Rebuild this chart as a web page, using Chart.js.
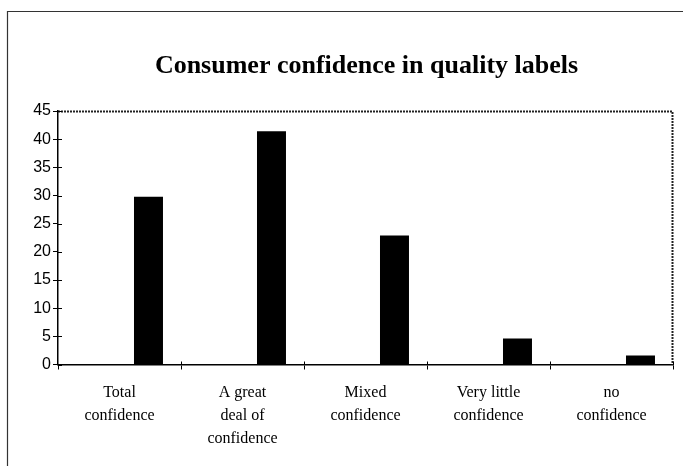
<!DOCTYPE html>
<html>
<head>
<meta charset="utf-8">
<script src="https://cdn.jsdelivr.net/npm/chart.js@4"></script>
<style>
html,body{margin:0;padding:0;background:#fff;}
#wrap{position:relative;width:683px;height:466px;}
</style>
</head>
<body>
<div id="wrap"><canvas id="c" width="683" height="466"></canvas></div>
<script>
const chartTitle = "Consumer confidence in quality labels";
const categories = [
  ["Total", "confidence"],
  ["A great", "deal of", "confidence"],
  ["Mixed", "confidence"],
  ["Very little", "confidence"],
  ["no", "confidence"]
];
const confidenceValues = [29.8, 41.4, 22.9, 4.6, 1.6];
const emptySeriesA = [];
const emptySeriesB = [];
const yTicks = [0, 5, 10, 15, 20, 25, 30, 35, 40, 45];

const framePlugin = {
  id: 'frame',
  afterDraw(chart) {
    const ctx = chart.ctx;
    const a = chart.chartArea;
    ctx.save();
    // outer chart frame (left + top)
    ctx.strokeStyle = '#333';
    ctx.lineWidth = 1.2;
    ctx.beginPath();
    ctx.moveTo(7.5, 466);
    ctx.lineTo(7.5, 11.5);
    ctx.lineTo(683, 11.5);
    ctx.stroke();
    // plot-area border (top + right), dotted
    ctx.strokeStyle = '#222';
    ctx.lineWidth = 2;
    ctx.setLineDash([2, 1]);
    ctx.beginPath();
    ctx.moveTo(a.left, a.top + 0.5);
    ctx.lineTo(a.right - 0.5, a.top + 0.5);
    ctx.lineTo(a.right - 0.5, a.bottom);
    ctx.stroke();
    ctx.setLineDash([]);
    // inner half of y ticks (cross marks)
    const ys = chart.scales.y;
    ctx.strokeStyle = '#000';
    ctx.lineWidth = 1;
    ys.ticks.forEach(t => {
      const py = Math.round(ys.getPixelForValue(t.value)) + 0.5;
      ctx.beginPath();
      ctx.moveTo(a.left, py);
      ctx.lineTo(a.left + 4, py);
      ctx.stroke();
    });
    // upward part of x ticks
    const xs = chart.scales.x;
    for (let i = 1; i <= categories.length; i++) {
      const px = Math.round(xs.getPixelForValue(i - 0.5)) + 0.5;
      ctx.beginPath();
      ctx.moveTo(px, a.bottom);
      ctx.lineTo(px, a.bottom - 3);
      ctx.stroke();
    }
    // title
    ctx.fillStyle = '#000';
    ctx.font = 'bold 26px "Liberation Serif"';
    ctx.textAlign = 'center';
    ctx.textBaseline = 'alphabetic';
    ctx.fillText(chartTitle, 366.5, 73);
    ctx.restore();
  }
};

new Chart(document.getElementById('c'), {
  type: 'bar',
  data: {
    labels: categories,
    datasets: [
      { label: 'a', data: emptySeriesA, backgroundColor: '#000' },
      { label: 'b', data: emptySeriesB, backgroundColor: '#000' },
      { label: 'Consumer confidence', data: confidenceValues, backgroundColor: '#000',
        borderWidth: 0 }
    ]
  },
  options: {
    responsive: false,
    animation: false,
    devicePixelRatio: 1,
    barPercentage: 1,
    categoryPercentage: 0.707,
    layout: { padding: { top: 111, right: 10, left: 0, bottom: 0 } },
    plugins: {
      legend: { display: false },
      title: { display: false },
      tooltip: { enabled: false }
    },
    scales: {
      y: {
        min: 0, max: 45,
        afterBuildTicks(scale) { scale.ticks = yTicks.map(v => ({ value: v })); },
        afterFit(scale) { scale.width = 58; },
        border: { display: true, color: '#000', width: 1.5 },
        grid: { display: true, drawOnChartArea: false, drawTicks: true, tickLength: 5, color: '#000' },
        ticks: {
          padding: 2,
          color: '#000',
          font: { family: '"Liberation Sans", Arial, sans-serif', size: 16 }
        }
      },
      x: {
        afterFit(scale) { scale.height = 466 - 364.5; },
        border: { display: true, color: '#000', width: 1.5 },
        grid: { display: true, offset: true, drawOnChartArea: false, drawTicks: true, tickLength: 5, color: '#000' },
        ticks: {
          padding: 12,
          color: '#000',
          maxRotation: 0,
          autoSkip: false,
          font: { family: '"Liberation Serif", "Times New Roman", serif', size: 16, lineHeight: 1.42 }
        }
      }
    }
  },
  plugins: [framePlugin]
});
</script>
</body>
</html>
